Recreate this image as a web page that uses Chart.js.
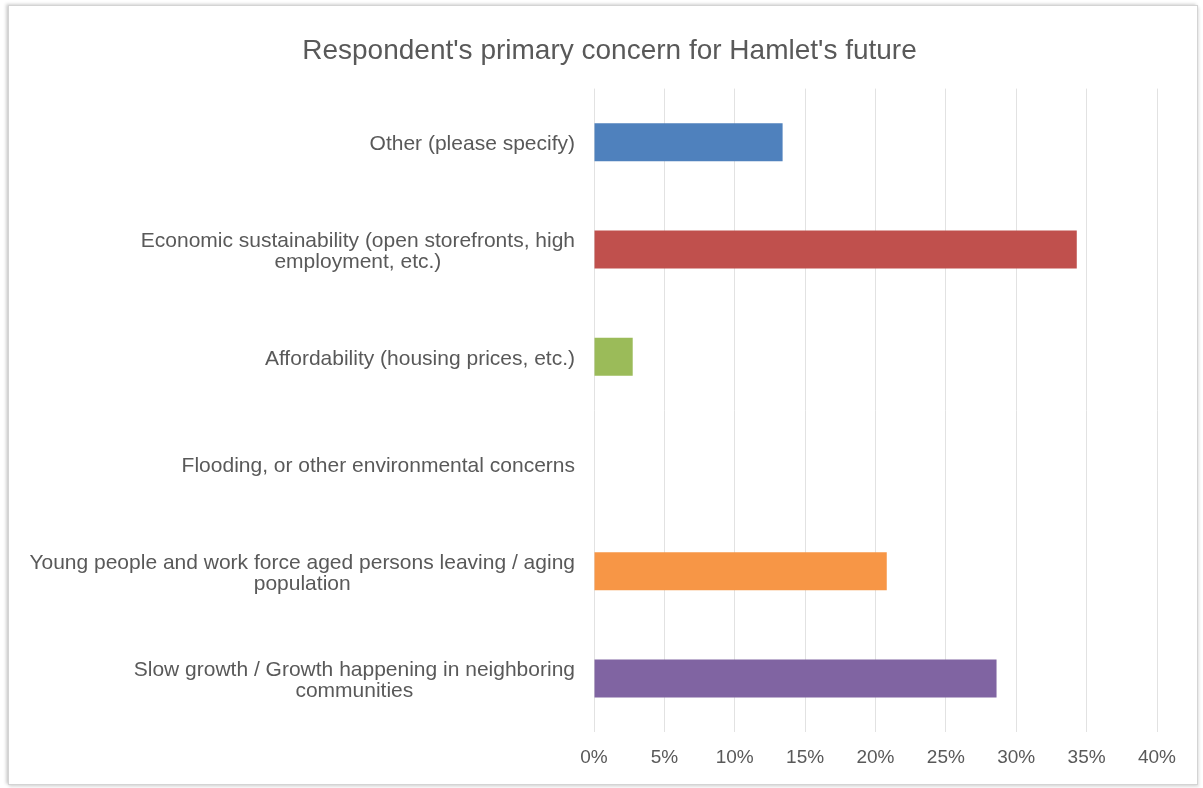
<!DOCTYPE html>
<html>
<head>
<meta charset="utf-8">
<script src="https://cdn.jsdelivr.net/npm/chart.js@4.4.1/dist/chart.umd.min.js"></script>
<style>
  html, body { margin: 0; padding: 0; background: #fff; }
  #frame {
    position: absolute; left: 8px; top: 5px; width: 1188px; height: 778px;
    border: 1px solid #d4d4d4;
    box-shadow: -2px -1px 3px rgba(0,0,0,0.18), 1px 2px 3px rgba(0,0,0,0.12);
  }
  #wrap { position: absolute; left: 0; top: 0; width: 1203px; height: 788px; }
</style>
</head>
<body>
<div id="frame"></div>
<div id="wrap"><canvas id="myChart" width="1203" height="788"></canvas></div>
<script>
// categories, top to bottom
var categories = [
  ['Other (please specify)'],
  ['Economic sustainability (open storefronts, high', 'employment, etc.)'],
  ['Affordability (housing prices, etc.)'],
  ['Flooding, or other environmental concerns'],
  ['Young people and work force aged persons leaving / aging', 'population'],
  ['Slow growth / Growth happening in neighboring', 'communities']
];
// share of respondents, percent
var shares = [13.4, 34.3, 2.75, 0, 20.8, 28.6];
var barColors = ['#4F81BD', '#C0504D', '#9BBB59', '#4BACC6', '#F79646', '#8064A2'];
var tickValues = [0, 5, 10, 15, 20, 25, 30, 35, 40];

var textColor = '#595959';

// excel style category labels: block right aligned, lines centered inside it
var catLabels = {
  id: 'catLabels',
  afterDraw(chart) {
    const ctx = chart.ctx;
    const yScale = chart.scales.y;
    const rightEdge = 575;
    const lh = 21;
    ctx.save();
    ctx.font = '21px "Liberation Sans", Arial, sans-serif';
    ctx.fillStyle = textColor;
    ctx.textAlign = 'center';
    ctx.textBaseline = 'middle';
    categories.forEach((lines, i) => {
      const y = yScale.getPixelForTick(i) + 2;
      let w = 0;
      lines.forEach(l => { w = Math.max(w, ctx.measureText(l).width); });
      const cx = rightEdge - w / 2;
      const y0 = y - (lines.length - 1) * lh / 2;
      lines.forEach((l, j) => ctx.fillText(l, cx, y0 + j * lh));
    });
    ctx.restore();
  }
};

var ctx = document.getElementById('myChart');
var myChart = new Chart(ctx, {
  type: 'bar',
  data: {
    labels: categories,
    datasets: [{
      data: shares,
      backgroundColor: barColors,
      borderWidth: 0,
      categoryPercentage: 1,
      barPercentage: 0.355
    }]
  },
  plugins: [catLabels],
  options: {
    indexAxis: 'y',
    responsive: false,
    animation: false,
    devicePixelRatio: 1,
    layout: { padding: { left: 62, right: 46, top: 0, bottom: 5 } },
    plugins: {
      legend: { display: false },
      tooltip: { enabled: false },
      title: {
        display: true,
        text: "Respondent's primary concern for Hamlet's future",
        color: textColor,
        font: { family: '"Liberation Sans", Arial, sans-serif', size: 28, weight: 'normal' },
        padding: { top: 34, bottom: 21 }
      }
    },
    scales: {
      x: {
        min: 0,
        max: 40,
        afterBuildTicks(axis) {
          axis.ticks = tickValues.map(v => ({ value: v }));
        },
        grid: { color: '#e2e2e2', lineWidth: 1, drawTicks: false },
        border: { display: false },
        ticks: {
          color: textColor,
          padding: 14,
          font: { family: '"Liberation Sans", Arial, sans-serif', size: 19 },
          callback: v => v + '%'
        }
      },
      y: {
        offset: true,
        grid: { display: false },
        border: { display: false },
        ticks: { display: false },
        afterFit(axis) { axis.width = 532; }
      }
    }
  }
});
</script>
</body>
</html>
